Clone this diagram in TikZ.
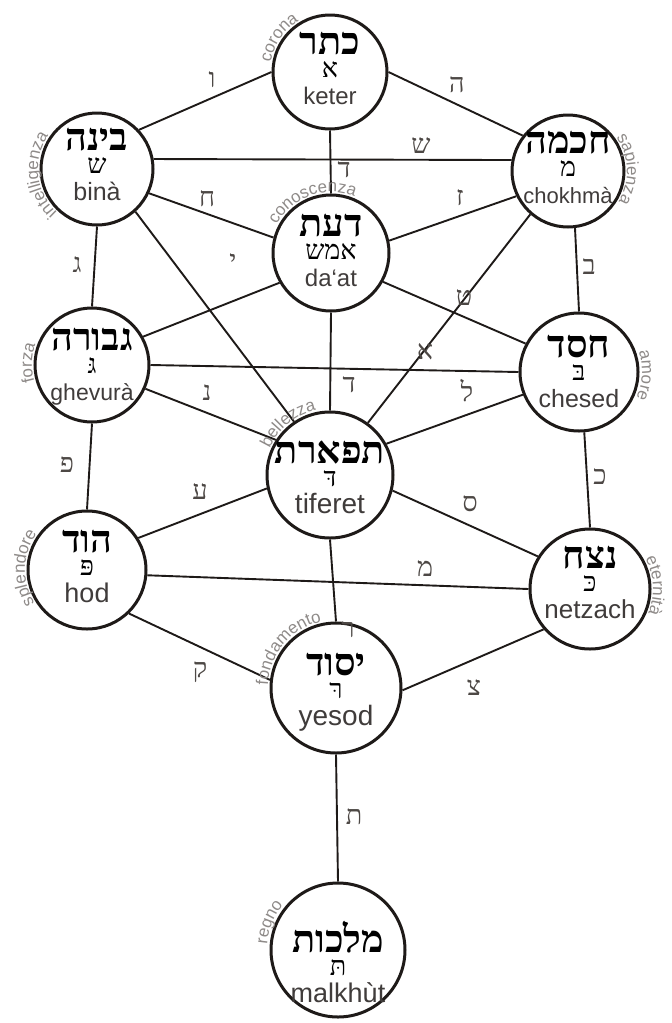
\documentclass[tikz,border=0pt]{standalone}
\usepackage{fontspec}
\setmainfont{Liberation Sans}
\newfontfamily\hebfont[Script=Hebrew]{Liberation Serif}
\TeXXeTstate=1
\usepackage{tikz}
\usetikzlibrary{decorations.text}

\definecolor{ink}{HTML}{1E1A18}
\definecolor{lblgray}{HTML}{4D4845}
\definecolor{orbgray}{HTML}{8E8A88}

% zero-size centred text line, raised by #1
\newcommand\ctr[2]{\makebox[0pt]{\raisebox{#1}[0pt][0pt]{#2}}}
% sefira: [latin size][shift] {hebrew}{letter}{latin}
\NewDocumentCommand\sef{O{25} O{0} m m m}{%
  \ctr{\dimexpr15pt-#2pt\relax}{\hebfont\bfseries\fontsize{38}{38}\selectfont\beginR #3\endR}%
  \ctr{\dimexpr-8pt-#2pt\relax}{\hebfont\fontsize{27}{27}\selectfont\beginR #4\endR}%
  \ctr{\dimexpr-35pt-#2pt\relax}{\color{ink!85}\fontsize{#1}{#1}\selectfont #5}}
% curved name round a sefira: node, from, to, radius, text
\newcommand\orbit[5]{%
  \path[decorate, decoration={text along path, text align=center,
      text color=orbgray, text={|\fontsize{17}{17}\selectfont|#5}}]
    (#1.center) ++(#2:#4) arc[start angle=#2, end angle=#3, radius=#4];}

\begin{document}
\begin{tikzpicture}[x=1pt, y=1pt,
    sefira/.style={circle, draw=ink, line width=3pt, fill=white,
      inner sep=0pt, minimum size=#1},
    sefira/.default=116pt,
    channel/.style={draw=ink, line width=1.9pt},
    letter/.style={font=\hebfont\fontsize{27}{27}\selectfont, text=lblgray, inner sep=0pt}]
    \useasboundingbox (0,0) rectangle (672,-1023);

    % the sefirot
    \node[sefira=114pt] (keter) at (330,-72) {\sef[24][-3]{כתר}{א}{keter}};
    \node[sefira=112pt] (bina) at (97,-169) {\sef[25][-4]{בינה}{ש}{binà}};
    \node[sefira=112pt] (chokhma) at (568,-171) {\sef[22][-3]{חכמה}{מ}{chokhmà}};
    \node[sefira=116pt] (daat) at (331,-253) {\sef[24][-2]{דעת}{אמש}{da‘at}};
    \node[sefira=114pt] (ghevura) at (92,-365) {\sef[23]{גבורה}{גּ}{ghevurà}};
    \node[sefira=118pt] (chesed) at (579,-372) {\sef[25]{חסד}{בּ}{chesed}};
    \node[sefira=126pt] (tiferet) at (330,-475) {\sef[28][3]{תפארת}{דּ}{tiferet}};
    \node[sefira=118pt] (hod) at (87,-570) {\sef[27][-3]{הוד}{פּ}{hod}};
    \node[sefira=120pt] (netzach) at (590,-589) {\sef[26][-6]{נצח}{כּ}{netzach}};
    \node[sefira=130pt] (yesod) at (336,-688) {\sef[28][2]{יסוד}{רּ}{yesod}};
    \node[sefira=134pt] (malkhut) at (338,-950) {\sef[27][17]{מלכות}{תּ}{malkhùt}};

    % the paths
    \draw[channel] (keter.180) -- (bina.43);
    \draw[channel] (keter.0) -- (chokhma.142);
    \draw[channel] (keter.270) -- (daat.90);
    \draw[channel] (bina.10) -- (chokhma.169);
    \draw[channel] (bina.-25) -- (daat.165);
    \draw[channel] (chokhma.206) -- (daat.12);
    \draw[channel] (bina.270) -- (ghevura.90);
    \draw[channel] (chokhma.277) -- (chesed.90);
    \draw[channel] (bina.-48) -- (tiferet.124);
    \draw[channel] (chokhma.229) -- (tiferet.54);
    \draw[channel] (daat.210) -- (ghevura.29);
    \draw[channel] (daat.331) -- (chesed.152);
    \draw[channel] (daat.270) -- (tiferet.90);
    \draw[channel] (ghevura.0) -- (chesed.180);
    \draw[channel] (ghevura.336) -- (tiferet.147);
    \draw[channel] (chesed.202) -- (tiferet.29);
    \draw[channel] (ghevura.270) -- (hod.90);
    \draw[channel] (chesed.275) -- (netzach.90);
    \draw[channel] (hod.32) -- (tiferet.192);
    \draw[channel] (tiferet.346) -- (netzach.148);
    \draw[channel] (hod.-5) -- (netzach.180);
    \draw[channel] (tiferet.270) -- (yesod.90);
    \draw[channel] (hod.314) -- (yesod.173);
    \draw[channel] (netzach.221) -- (yesod.358);
    \draw[channel] (yesod.270) -- (malkhut.90);

    % letters of the paths
    \foreach \x/\y/\t [count=\i] in {212/80/ו, 457/85/ה, 344/170/ד, 421/146/ש,
        207/199/ח, 460/198/ז, 77/265/ג, 589/267/ב, 233/262/י, 464/298/ט,
        425/352/א, 349/385/ד, 207/393/נ, 467/391/ל, 67/465/פ, 600/477/כ,
        200/492/ע, 470/504/ס, 425/569/מ, 348/630/ר, 200/672/ק, 474/688/צ,
        354/817/ת}
      \node[letter] (ch\i) at (\x,-\y) {\t};

    % names round the circles
    \orbit{keter}{190}{102}{60}{corona}
    \orbit{bina}{245}{128}{59}{intelligenza}
    \orbit{chokhma}{52}{-48}{59}{sapienza}
    \orbit{daat}{165}{55}{61}{conoscenza}
    \orbit{ghevura}{215}{141}{60}{forza}
    \orbit{chesed}{32}{-38}{63}{amore}
    \orbit{tiferet}{180}{78}{66}{bellezza}
    \orbit{hod}{230}{126}{62}{splendore}
    \orbit{netzach}{50}{-44}{63}{eternità}
    \orbit{yesod}{200}{80}{68}{fondamento}
    \orbit{malkhut}{195}{121}{71}{regno}
\end{tikzpicture}
\end{document}
